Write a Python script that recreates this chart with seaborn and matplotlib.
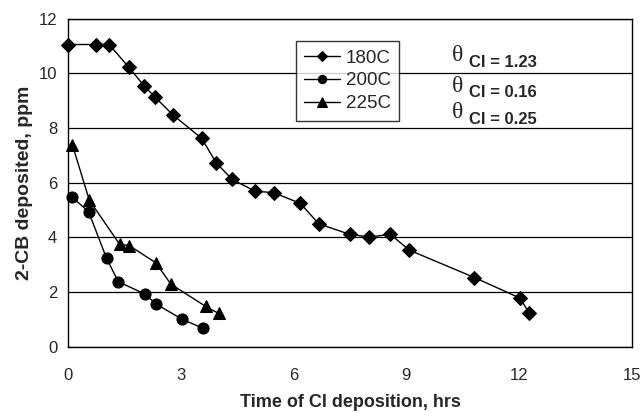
import matplotlib
matplotlib.use("Agg")
import matplotlib.pyplot as plt
import seaborn as sns
import pandas as pd
from matplotlib.ticker import MultipleLocator

t_180 = [0.0, 0.74, 1.09, 1.61, 2.02, 2.30, 2.79, 3.55, 3.94, 4.36, 4.97, 5.47, 6.18, 6.67, 7.49, 8.01, 8.57, 9.08, 10.81, 12.02, 12.27]
v_180 = [11.05, 11.05, 11.05, 10.22, 9.54, 9.14, 8.47, 7.62, 6.72, 6.12, 5.69, 5.63, 5.24, 4.49, 4.11, 4.01, 4.11, 3.53, 2.53, 1.78, 1.23]
t_200 = [0.09, 0.54, 1.02, 1.33, 2.03, 2.34, 3.02, 3.59]
v_200 = [5.48, 4.94, 3.23, 2.38, 1.93, 1.56, 1.01, 0.67]
t_225 = [0.11, 0.56, 1.37, 1.62, 2.33, 2.73, 3.66, 4.00]
v_225 = [7.38, 5.36, 3.74, 3.70, 3.07, 2.29, 1.47, 1.22]
series_names = ["180C", "200C", "225C"]
theta_labels = ["CI = 1.23", "CI = 0.16", "CI = 0.25"]

sns.set_style("white")
plt.rcParams['font.family'] = ['Liberation Sans', 'DejaVu Sans']

frames = []
for name, t, v in zip(series_names, [t_180, t_200, t_225], [v_180, v_200, v_225]):
    frames.append(pd.DataFrame({"t": t, "v": v, "series": name}))
df = pd.concat(frames, ignore_index=True)

fig = plt.figure(figsize=(6.44, 4.12), dpi=100)
ax = fig.add_axes([0.106, 0.1585, 0.875, 0.7965])

markers = {"180C": "D", "200C": "o", "225C": "^"}
sizes = {"180C": 7, "200C": 8, "225C": 9}
for name in series_names:
    sub = df[df.series == name]
    sns.lineplot(data=sub, x="t", y="v", ax=ax, color="black", lw=1.0,
                 marker=markers[name], markersize=sizes[name],
                 markeredgecolor="black", markerfacecolor="black",
                 label=name, sort=False, estimator=None, clip_on=False, zorder=5)

ax.set_xlim(0, 15)
ax.set_ylim(0, 12)
ax.xaxis.set_major_locator(MultipleLocator(3))
ax.xaxis.set_minor_locator(MultipleLocator(0.6))
ax.yaxis.set_major_locator(MultipleLocator(2))
ax.yaxis.set_minor_locator(MultipleLocator(0.5))
ax.tick_params(which="major", direction="out", length=5, width=1, labelsize=12, color="black")
ax.tick_params(which="minor", direction="in", length=4, width=0.8, color="black")
ax.tick_params(axis="x", which="major", pad=10)
ax.tick_params(axis="y", which="major", pad=3)
ax.grid(axis="y", which="major", color="black", lw=0.9)
ax.set_axisbelow(True)
for s in ax.spines.values():
    s.set_color("black")
    s.set_linewidth(1.0)

ax.set_xlabel("Time of Cl deposition, hrs", fontsize=13, fontweight="bold", labelpad=8)
ax.set_ylabel("2-CB deposited, ppm", fontsize=14, fontweight="bold", labelpad=4)

leg = ax.legend(loc="upper left", bbox_to_anchor=(0.404, 0.9315), borderaxespad=0,
                fontsize=13.5, frameon=True, fancybox=False, edgecolor="black",
                handlelength=1.9, borderpad=0.45, labelspacing=0.3,
                handletextpad=0.3, markerscale=0.75)
leg.get_frame().set_linewidth(1.0)
leg.set_zorder(10)

text_y = [0.8675, 0.7744, 0.6923]
for y, lab in zip(text_y, theta_labels):
    ax.text(0.6805, y + 0.02, "θ", transform=ax.transAxes, fontsize=17,
            family=["Liberation Serif", "DejaVu Serif"], va="center", ha="left")
    ax.text(0.711, y, lab, transform=ax.transAxes, fontsize=12,
            fontweight="bold", va="center", ha="left")

fig.savefig("out.png", dpi=100)
